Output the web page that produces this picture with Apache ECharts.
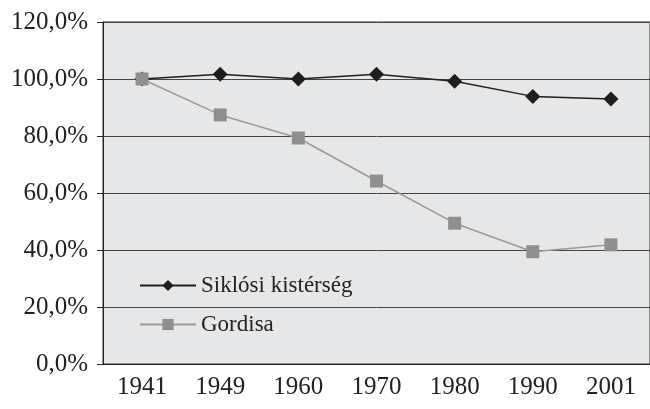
<!DOCTYPE html>
<html lang="hu" style="height: 100%">
<head>
  <meta charset="utf-8">
  <title>Siklósi kistérség - Gordisa</title>
</head>
<body style="height: 100%; margin: 0; background: #ffffff;">
  <div id="container" style="width: 650px; height: 409px;"></div>

  <script src="https://cdn.jsdelivr.net/npm/echarts@6/dist/echarts.min.js"></script>
  <script type="text/javascript">
    const evek = ['1941', '1949', '1960', '1970', '1980', '1990', '2001'];
    const siklosi = [100, 101.7, 100, 101.7, 99.2, 93.9, 93.0];
    const gordisa = [100, 87.4, 79.3, 64.2, 49.4, 39.4, 41.8];

    const betu = 'Liberation Serif';
    const myChart = echarts.init(document.getElementById('container'));

    const option = {
      animation: false,
      textStyle: { fontFamily: betu },
      grid: {
        left: 103, top: 22, width: 550, height: 342,
        show: true, backgroundColor: '#e6e7e8',
        borderColor: '#333', borderWidth: 1
      },
      legend: {
        orient: 'vertical',
        left: 134, top: 269,
        itemGap: 16,
        itemWidth: 56, itemHeight: 14,
        textStyle: { fontFamily: betu, fontSize: 23, color: '#222' },
        data: ['Siklósi kistérség', 'Gordisa']
      },
      xAxis: {
        type: 'category',
        data: evek,
        axisLine: { lineStyle: { color: '#222', width: 1 } },
        axisTick: { length: 8, lineStyle: { color: '#222' } },
        axisLabel: { fontFamily: betu, fontSize: 25, color: '#222', margin: 11 }
      },
      yAxis: {
        type: 'value',
        min: 0, max: 120, interval: 20,
        axisLine: { show: true, lineStyle: { color: '#222' } },
        axisTick: { show: true, length: 6, lineStyle: { color: '#222' } },
        splitLine: { lineStyle: { color: '#444', width: 1 } },
        axisLabel: {
          fontFamily: betu, fontSize: 25, color: '#222', margin: 15,
          formatter: v => v.toFixed(1).replace('.', ',') + '%'
        }
      },
      series: [
        {
          name: 'Siklósi kistérség',
          type: 'line',
          data: siklosi,
          symbol: 'diamond',
          symbolSize: 15,
          lineStyle: { color: '#1e1e1e', width: 1.5 },
          itemStyle: { color: '#1e1e1e' },
          z: 2
        },
        {
          name: 'Gordisa',
          type: 'line',
          data: gordisa,
          symbol: 'rect',
          symbolSize: 13,
          lineStyle: { color: '#9a9a9a', width: 1.5 },
          itemStyle: { color: '#8f8f8f' },
          z: 3
        }
      ]
    };

    myChart.setOption(option);
  </script>
</body>
</html>
